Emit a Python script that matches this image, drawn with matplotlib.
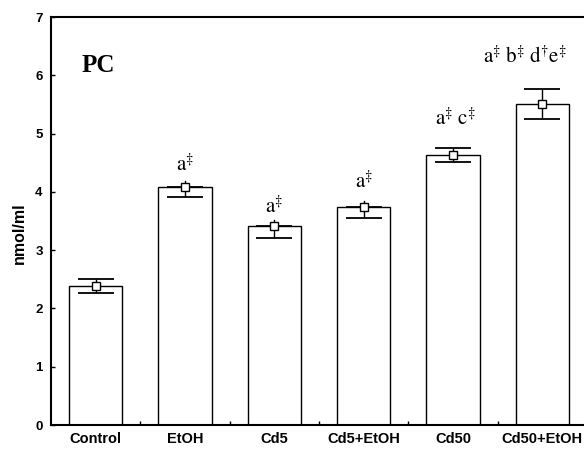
import matplotlib
matplotlib.use("Agg")
import matplotlib.pyplot as plt
import numpy as np

categories = ["Control", "EtOH", "Cd5", "Cd5+EtOH", "Cd50", "Cd50+EtOH"]
means = [2.38, 4.08, 3.42, 3.74, 4.63, 5.51]
err_low = [0.12, 0.16, 0.22, 0.19, 0.11, 0.26]
err_high = [0.12, 0.0, 0.0, 0.0, 0.12, 0.26]
annotations = [None, r"$\mathrm{a}^{\ddag}$", r"$\mathrm{a}^{\ddag}$", r"$\mathrm{a}^{\ddag}$",
               r"$\mathrm{a}^{\ddag}\ \mathrm{c}^{\ddag}$",
               r"$\mathrm{a}^{\ddag}\ \mathrm{b}^{\ddag}\ \mathrm{d}^{\dag}\mathrm{e}^{\ddag}$"]
annot_y = [None, 4.47, 3.76, 4.18, 5.26, 6.33]
annot_dx = [0, 0, 0, 0, 0.03, -0.2]
yticks = [0, 1, 2, 3, 4, 5, 6, 7]

plt.rcParams['mathtext.fontset'] = 'stix'

fig = plt.figure(figsize=(5.84, 4.49), dpi=100)
ax = fig.add_axes([51/584, 1-425/449, (587-51)/584, (425-17)/449])

x = np.arange(len(categories))
ax.bar(x, means, width=0.6, color='white', edgecolor='black', linewidth=1.0, zorder=2)
ax.errorbar(x, means, yerr=[err_low, err_high], fmt='none', ecolor='black',
            elinewidth=1.0, capsize=13, capthick=1.3, zorder=3)
# short stems above the markers where no upper cap is visible
for xi, m, eh in zip(x, means, err_high):
    if eh == 0:
        ax.plot([xi, xi], [m, m + 0.1], color='black', linewidth=1.0, zorder=3)
ax.plot(x, means, linestyle='none', marker='s', markersize=6, markerfacecolor='white',
        markeredgecolor='black', markeredgewidth=1.0, zorder=4)

for xi, t, yy, dx in zip(x, annotations, annot_y, annot_dx):
    if t:
        ax.text(xi + dx, yy, t, ha='center', va='center', fontsize=15, color='black')

ax.text(-0.16, 6.17, "PC", fontfamily='Liberation Serif', fontweight='bold', fontsize=18,
        ha='left', va='center')

ax.set_xlim(-0.5, 5.5)
ax.set_ylim(0, 7)
ax.set_yticks(yticks)
ax.set_yticklabels([str(v) for v in yticks], fontfamily='Liberation Sans', fontweight='bold', fontsize=9.5)
ax.set_xticks(x)
ax.set_xticklabels(categories, fontfamily='Liberation Sans', fontweight='bold', fontsize=10.5)
ax.set_xticks(np.arange(0.5, 5.0, 1.0), minor=True)
ax.tick_params(axis='x', which='major', length=0, pad=5)
ax.tick_params(axis='x', which='minor', length=3, direction='in', width=1)
ax.tick_params(axis='y', which='major', length=3, direction='in', width=1, pad=6)
ax.set_ylabel("nmol/ml", fontfamily='Liberation Sans', fontweight='bold', fontsize=11.5)
ax.yaxis.set_label_coords(-24/536, 0.47)

for s in ['left', 'bottom', 'top']:
    ax.spines[s].set_linewidth(1.5)
ax.spines['right'].set_visible(False)

fig.savefig("out.png", dpi=100)
